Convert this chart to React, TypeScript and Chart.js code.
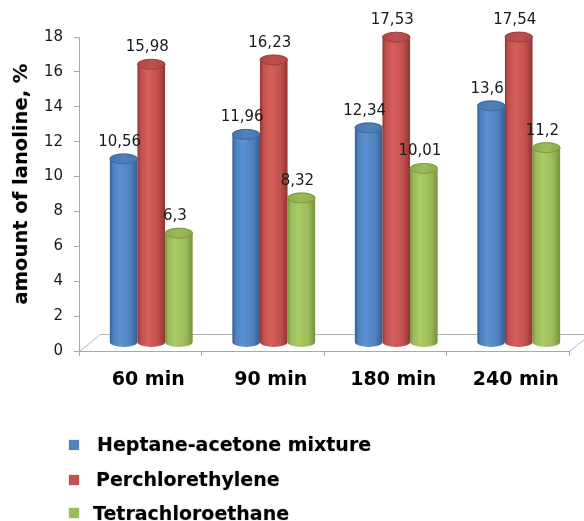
import React, { useEffect, useRef } from 'react';
import { Chart, registerables } from 'chart.js';

Chart.register(...registerables);

const categories = ['60 min', '90 min', '180 min', '240 min'];
const seriesNames = ['Heptane-acetone mixture', 'Perchlorethylene', 'Tetrachloroethane'];
const heptaneAcetone = [10.56, 11.96, 12.34, 13.6];
const perchlorethylene = [15.98, 16.23, 17.53, 17.54];
const tetrachloroethane = [6.3, 8.32, 10.01, 11.2];
const yMin = 0;
const yMax = 18;
const yStep = 2;
const yTitle = 'amount of lanoline, %';

const palette = [
  { base: '#4F81BD', dark: '#335d92', light: '#5b92d4', top: '#4676b2', rim: '#2f5789' },
  { base: '#C0504D', dark: '#923431', light: '#d65f5b', top: '#ad4542', rim: '#84302d' },
  { base: '#9BBB59', dark: '#76933b', light: '#abcb67', top: '#8aaa4a', rim: '#6c8836' },
];

const FONT = '"DejaVu Sans", "Liberation Sans", sans-serif';

function drawCylinder(ctx: CanvasRenderingContext2D, cx: number, w: number, topY: number, baseY: number, col: any) {
  const rx = w / 2;
  const ry = 5;
  const l = cx - rx;
  const r = cx + rx;
  const g = ctx.createLinearGradient(l, 0, r, 0);
  g.addColorStop(0, col.dark);
  g.addColorStop(0.12, col.base);
  g.addColorStop(0.38, col.light);
  g.addColorStop(0.75, col.base);
  g.addColorStop(1, col.dark);
  ctx.beginPath();
  ctx.moveTo(l, topY);
  ctx.lineTo(l, baseY);
  ctx.ellipse(cx, baseY, rx, ry, 0, Math.PI, 0, true);
  ctx.lineTo(r, topY);
  ctx.ellipse(cx, topY, rx, ry, 0, 0, Math.PI, false);
  ctx.closePath();
  ctx.fillStyle = g;
  ctx.fill();
  const tg = ctx.createLinearGradient(l, topY - ry, r, topY + ry);
  tg.addColorStop(0, col.top);
  tg.addColorStop(0.5, col.base);
  tg.addColorStop(1, col.top);
  ctx.beginPath();
  ctx.ellipse(cx, topY, rx, ry, 0, 0, Math.PI * 2);
  ctx.fillStyle = tg;
  ctx.fill();
  ctx.lineWidth = 0.8;
  ctx.strokeStyle = col.rim;
  ctx.stroke();
}

const cylinderPlugin = {
  id: 'cylinders',
  beforeDatasetsDraw(chart: any) {
    const { ctx, chartArea } = chart;
    const left = chartArea.left + 0.5;
    const right = chartArea.right + 0.5;
    const bottom = chartArea.bottom + 0.5;
    ctx.save();
    ctx.strokeStyle = '#b4b4b4';
    ctx.lineWidth = 1;
    ctx.beginPath();
    ctx.moveTo(left, bottom);
    ctx.lineTo(left + 21, bottom - 17);
    ctx.lineTo(chart.width, bottom - 17);
    ctx.moveTo(right, bottom);
    ctx.lineTo(right + 21, bottom - 17);
    ctx.stroke();
    ctx.restore();
  },
  beforeDatasetDraw() {
    return false;
  },
  afterDatasetsDraw(chart: any) {
    const { ctx } = chart;
    const yScale = chart.scales.y;
    const baseY = yScale.getPixelForValue(0) - 9;
    const dx = 11;
    const dy = -8;
    const metas = chart.data.datasets.map((_: any, i: number) => chart.getDatasetMeta(i));
    ctx.save();
    const labels: any[] = [];
    for (let c = 0; c < chart.data.labels.length; c++) {
      metas.forEach((meta: any, di: number) => {
        const el = meta.data[c];
        const cx = el.x + dx;
        const topY = el.y + dy;
        drawCylinder(ctx, cx, el.width, topY, baseY, palette[di]);
        const v = chart.data.datasets[di].data[c];
        labels.push({ x: cx - 4, y: topY - 17, text: String(v).replace('.', ',') });
      });
    }
    ctx.font = '15px ' + FONT;
    ctx.textAlign = 'center';
    ctx.textBaseline = 'middle';
    ctx.fillStyle = '#1a1a1a';
    labels.forEach((lb) => ctx.fillText(lb.text, lb.x, lb.y));
    ctx.restore();
  },
  afterDraw(chart: any) {
    const { ctx } = chart;
    const rowsSquare = [445, 480, 513];
    const rowsBase = [451, 486, 520];
    const textX = [97, 96, 93];
    ctx.save();
    ctx.font = 'bold 19px ' + FONT;
    ctx.textAlign = 'left';
    ctx.textBaseline = 'alphabetic';
    ctx.shadowColor = 'rgba(90,60,20,0.35)';
    ctx.shadowBlur = 1.5;
    chart.data.datasets.forEach((ds: any, i: number) => {
      ctx.fillStyle = ds.backgroundColor;
      ctx.fillRect(69, rowsSquare[i] - 5, 10, 10);
      ctx.fillStyle = '#000';
      ctx.fillText(ds.label, textX[i], rowsBase[i]);
    });
    // y-axis title
    ctx.translate(22, 184);
    ctx.rotate(-Math.PI / 2);
    ctx.textAlign = 'center';
    ctx.textBaseline = 'middle';
    ctx.font = 'bold 19.5px ' + FONT;
    ctx.fillText(yTitle, 0, 0);
    ctx.restore();
  },
};

export default function App() {
  const ref = useRef<HTMLCanvasElement | null>(null);
  useEffect(() => {
    if (!ref.current) return;
    const seriesValues = [heptaneAcetone, perchlorethylene, tetrachloroethane];
    const chart = new Chart(ref.current, {
      type: 'bar',
      data: {
        labels: categories,
        datasets: seriesNames.map((name, i) => ({
          label: name,
          data: seriesValues[i],
          backgroundColor: palette[i].base,
          categoryPercentage: 0.676,
          barPercentage: 1,
        })),
      },
      options: {
        responsive: false,
        animation: false,
        layout: { padding: { left: 0, top: 37, right: 15, bottom: 120 } },
        plugins: {
          legend: { display: false },
          tooltip: { enabled: false },
        },
        scales: {
          x: {
            grid: { offset: true, drawOnChartArea: false, drawTicks: true, tickLength: 5, color: '#a8a8a8' },
            border: { display: true, color: '#a8a8a8' },
            ticks: {
              font: { family: FONT, size: 19, weight: 'bold' },
              color: '#000',
              padding: 13,
              labelOffset: 8,
              maxRotation: 0,
            },
            afterFit(scale: any) {
              scale.height = 50;
            },
          },
          y: {
            min: yMin,
            max: yMax,
            ticks: {
              stepSize: yStep,
              font: { family: FONT, size: 15 },
              color: '#1a1a1a',
              padding: 11,
            },
            grid: { drawOnChartArea: false, drawTicks: true, tickLength: 5, color: '#a8a8a8' },
            border: { display: true, color: '#a8a8a8' },
            title: { display: false, text: yTitle },
            afterFit(scale: any) {
              scale.width = 79;
            },
          },
        },
      },
      plugins: [cylinderPlugin],
    } as any);
    return () => chart.destroy();
  }, []);
  return (
    <div style={{ position: 'fixed', left: 0, top: 0, width: 584, height: 521, background: '#fff' }}>
      <canvas ref={ref} width={584} height={521} style={{ display: 'block' }} />
    </div>
  );
}
